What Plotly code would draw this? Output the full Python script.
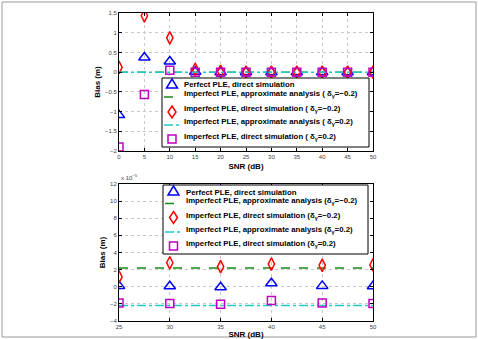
import plotly.graph_objects as go
from plotly.subplots import make_subplots

# ---------------- data ----------------
snr_top = [0, 5, 10, 15, 20, 25, 30, 35, 40, 45, 50]
perfect_top = [-1.09, 0.37, 0.27, 0.01, 0.0, 0.0, 0.0, 0.0, 0.0, 0.0, 0.0]
imp_neg_sim_top = [0.12, 1.43, 0.87, 0.07, 0.02, 0.0, 0.0, 0.0, 0.0, 0.0, 0.0]
imp_pos_sim_top = [-1.9, -0.57, 0.05, 0.0, 0.0, 0.0, 0.0, 0.0, 0.0, 0.0, 0.0]
imp_neg_ana_top = [2.2e-5] * 11
imp_pos_ana_top = [-2.2e-5] * 11

snr_bot = [25, 30, 35, 40, 45, 50]
# values in units of 1e-5 m
perfect_bot = [0.1, 0.05, -0.05, 0.4, 0.1, 0.05]
imp_neg_sim_bot = [1.15, 2.8, 2.35, 2.65, 2.5, 2.55]
imp_pos_sim_bot = [-1.9, -1.95, -2.05, -1.6, -1.9, -1.95]
imp_neg_ana_bot = [2.2] * 6
imp_pos_ana_bot = [-2.2] * 6

xticks_top = list(range(0, 51, 5))
yticks_top = [-2, -1.5, -1, -0.5, 0, 0.5, 1, 1.5]
xticks_bot = list(range(25, 51, 5))
yticks_bot = list(range(-4, 13, 2))

names_top = [
    "Perfect PLE, direct simulation",
    "Imperfect PLE, approximate analysis ( δ<sub>γ</sub>=−0.2)",
    "Imperfect PLE, direct simulation ( δ<sub>γ</sub>=−0.2)",
    "Imperfect PLE, approximate analysis ( δ<sub>γ</sub>=0.2)",
    "Imperfect PLE, direct simulation ( δ<sub>γ</sub>=0.2)",
]
names_bot = [
    "Perfect PLE, direct simulation",
    "Imperfect PLE, approximate analysis (δ<sub>γ</sub>=−0.2)",
    "Imperfect PLE, direct simulation (δ<sub>γ</sub>=−0.2)",
    "Imperfect PLE, approximate analysis (δ<sub>γ</sub>=0.2)",
    "Imperfect PLE, direct simulation (δ<sub>γ</sub>=0.2)",
]

BLUE = "#0000ff"
RED = "#ff0000"
MAG = "#c000c0"
GREEN = "#1a8a1a"
CYAN = "#22c8c8"
styles = [
    ("marker", "triangle", BLUE),
    ("line", "dash", GREEN),
    ("marker", "diamond", RED),
    ("line", "dashdot", CYAN),
    ("marker", "square", MAG),
]

W, H = 478, 339
L, R, T, B = 119, 105, 13, 18
PW = W - L - R
PH = H - T - B

def py(ypix):
    return (H - B - ypix) / PH

def px(xpix):
    return (xpix - L) / PW

fig = make_subplots(rows=2, cols=1)
fig.update_layout(
    xaxis=dict(domain=[0, 1]), yaxis=dict(domain=[py(151), 1]),
    xaxis2=dict(domain=[0, 1]), yaxis2=dict(domain=[0, py(184)]),
)

def add_set(x, perf, nsim, psim, nana, pana, names, row):
    fig.add_trace(go.Scatter(x=x, y=perf, mode="markers", name=names[0],
                             marker=dict(symbol="triangle-up-open", size=10, color=BLUE,
                                         line=dict(width=1.5, color=BLUE))), row=row, col=1)
    fig.add_trace(go.Scatter(x=x, y=nana, mode="lines", name=names[1],
                             line=dict(color=GREEN, width=1.5, dash="dash")), row=row, col=1)
    fig.add_trace(go.Scatter(x=x, y=nsim, mode="markers", name=names[2],
                             marker=dict(symbol="diamond-tall-open", size=9, color=RED,
                                         line=dict(width=1.5, color=RED))), row=row, col=1)
    fig.add_trace(go.Scatter(x=x, y=pana, mode="lines", name=names[3],
                             line=dict(color=CYAN, width=1.5, dash="dashdot")), row=row, col=1)
    fig.add_trace(go.Scatter(x=x, y=psim, mode="markers", name=names[4],
                             marker=dict(symbol="square-open", size=8, color=MAG,
                                         line=dict(width=1.5, color=MAG))), row=row, col=1)

add_set(snr_top, perfect_top, imp_neg_sim_top, imp_pos_sim_top,
        imp_neg_ana_top, imp_pos_ana_top, names_top, 1)
add_set(snr_bot, perfect_bot, imp_neg_sim_bot, imp_pos_sim_bot,
        imp_neg_ana_bot, imp_pos_ana_bot, names_bot, 2)

axis_common = dict(showline=True, linecolor="black", linewidth=1, mirror="ticks",
                   ticks="inside", ticklen=3, tickcolor="black", automargin=False,
                   showgrid=True, gridcolor="#c8c8c8", griddash="dot", gridwidth=1,
                   zeroline=False, tickfont=dict(size=6, color="#444", family="Liberation Sans"))
title_font = dict(size=8, color="black", family="Liberation Sans", weight="bold")

fig.update_xaxes(**axis_common)
fig.update_yaxes(**axis_common)
fig.update_xaxes(range=[0, 50], tickvals=xticks_top,
                 title=dict(text="SNR (dB)", font=title_font, standoff=4), row=1, col=1)
fig.update_yaxes(range=[-2, 1.5], tickvals=yticks_top,
                 title=dict(text="Bias (m)", font=title_font, standoff=3), row=1, col=1)
fig.update_xaxes(range=[25, 50], tickvals=xticks_bot,
                 title=dict(text="SNR (dB)", font=title_font, standoff=4), row=2, col=1)
fig.update_yaxes(range=[-4, 12], tickvals=yticks_bot,
                 title=dict(text="Bias (m)", font=title_font, standoff=3), row=2, col=1)

# ---------------- legend boxes (drawn as shapes + annotations) ----------------
shapes = [dict(type="rect", xref="paper", yref="paper",
               x0=px(2), x1=px(476), y0=py(337), y1=py(2),
               line=dict(color="#999", width=1), layer="below")]
annotations = [dict(text="x 10<sup>−5</sup>", xref="paper", yref="paper",
                    x=px(119), y=py(183), xanchor="left", yanchor="bottom",
                    showarrow=False, font=dict(size=6, color="#444", family="Liberation Sans"))]

leg_font = dict(size=7.8, color="black", family="Liberation Sans", weight="bold")

def path(points):
    return "M " + " L ".join(f"{px(a):.5f},{py(b):.5f}" for a, b in points) + " Z"

def legend_box(box, mx, tx, sym_rows, text_rows, names):
    x0, y0, x1, y1 = box
    shapes.append(dict(type="rect", xref="paper", yref="paper",
                       x0=px(x0), x1=px(x1), y0=py(y1), y1=py(y0),
                       fillcolor="white", line=dict(color="black", width=1), layer="above"))
    for (kind, st, col), sy, ty, nm in zip(styles, sym_rows, text_rows, names):
        if kind == "line":
            shapes.append(dict(type="line", xref="paper", yref="paper",
                               x0=px(x0 + 2), x1=px(tx - 1), y0=py(sy), y1=py(sy),
                               line=dict(color=col, width=1.5, dash=st), layer="above"))
        elif st == "triangle":
            shapes.append(dict(type="path", xref="paper", yref="paper",
                               path=path([(mx - 5.5, sy + 4), (mx + 5.5, sy + 4), (mx, sy - 5)]),
                               line=dict(color=col, width=1.5), layer="above"))
        elif st == "diamond":
            shapes.append(dict(type="path", xref="paper", yref="paper",
                               path=path([(mx, sy - 6), (mx + 4, sy), (mx, sy + 6), (mx - 4, sy)]),
                               line=dict(color=col, width=1.5), layer="above"))
        else:
            shapes.append(dict(type="path", xref="paper", yref="paper",
                               path=path([(mx - 4, sy - 4), (mx + 4, sy - 4), (mx + 4, sy + 4), (mx - 4, sy + 4)]),
                               line=dict(color=col, width=1.5), layer="above"))
        annotations.append(dict(text=nm, xref="paper", yref="paper", x=px(tx), y=py(ty),
                                xanchor="left", yanchor="middle", showarrow=False,
                                font=leg_font))

legend_box((162, 78, 369, 147), 172, 182, [84, 97, 112, 125, 139], [84.5, 93.5, 108.5, 122, 136.5], names_top)
legend_box((163, 185, 368, 254), 173.5, 183.5, [191, 203.5, 217.5, 232, 246], [192, 201, 215.5, 229.5, 243.5], names_bot)

fig.update_layout(
    width=W, height=H,
    margin=dict(l=L, r=R, t=T, b=B),
    paper_bgcolor="white", plot_bgcolor="white",
    showlegend=False,
    annotations=annotations,
    shapes=shapes,
)

fig.write_html("out.html")
